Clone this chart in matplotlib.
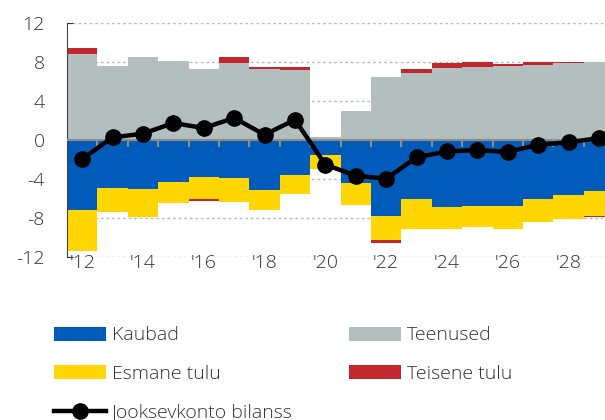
import numpy as np
import matplotlib
matplotlib.use('Agg')
import matplotlib.pyplot as plt

plt.rcParams['font.family'] = ['Open Sans', 'DejaVu Sans']
plt.rcParams['font.weight'] = 'light'
plt.rcParams['axes.unicode_minus'] = False

years = np.arange(2012, 2030)
kaubad = [-7.18, -4.92, -5.0, -4.28, -3.83, -3.9, -5.1, -3.63, -1.5,
          -4.41, -7.84, -6.02, -6.84, -6.74, -6.74, -6.02, -5.61, -5.2]
teenused = [8.8, 7.55, 8.47, 8.1, 7.31, 7.86, 7.28, 7.21, 0.34,
            3.0, 6.49, 6.83, 7.38, 7.52, 7.55, 7.66, 7.9, 8.0]
esmane = [-4.17, -2.46, -2.9, -2.18, -2.22, -2.43, -2.05, -1.91, -1.47,
          -2.23, -2.39, -3.14, -2.26, -2.22, -2.36, -2.43, -2.49, -2.56]
teisene = [0.6, 0.05, 0.05, 0.05, -0.17, 0.7, 0.24, 0.24, 0.0,
           -0.06, -0.3, 0.48, 0.5, 0.48, 0.25, 0.3, 0.05, -0.12]
jooksev = [-1.95, 0.27, 0.65, 1.74, 1.23, 2.26, 0.54, 2.08, -2.53,
           -3.66, -3.97, -1.78, -1.17, -1.03, -1.23, -0.48, -0.24, 0.2]
xtick_years = np.arange(2012, 2030, 2)
xtick_labels = ["'%02d" % (y % 100) for y in xtick_years]

c_blue = '#005BBB'
c_grey = '#B3BFBE'
c_yellow = '#FFD600'
c_red = '#C4262E'

fig = plt.figure(figsize=(6.05, 4.2), dpi=100)
ax = fig.add_axes([67/605, 1-257/420, 1-67/605, (257-23)/420])

kaubad = np.array(kaubad)
esmane = np.array(esmane)
teenused = np.array(teenused)
teisene = np.array(teisene)

ax.bar(years, kaubad, width=1.0, color=c_blue, lw=0, label='Kaubad', zorder=2)
ax.bar(years, teenused, width=1.0, color=c_grey, lw=0, label='Teenused', zorder=2)
ax.bar(years, esmane, bottom=kaubad, width=1.0, color=c_yellow, lw=0,
       label='Esmane tulu', zorder=2)
tei_bottom = np.where(teisene >= 0, teenused, kaubad + esmane)
ax.bar(years, teisene, bottom=tei_bottom, width=1.0, color=c_red, lw=0,
       label='Teisene tulu', zorder=2)

# zero line with small ticks between bars
ax.axhline(0, color='#8C8C8C', lw=1.5, zorder=3)
ax.vlines(years[1:] - 0.5, -0.75, 0, color='#8C8C8C', lw=1.5, zorder=3)

ax.plot(years, jooksev, color='black', lw=3.2, marker='o', markersize=11,
        label='Jooksevkonto bilanss', zorder=4)

ax.set_xlim(2011.5, 2029.2)
ax.set_ylim(-12, 12)
ax.set_yticks([-12, -8, -4, 0, 4, 8, 12])
ax.set_xticks(xtick_years)
ax.set_xticklabels(xtick_labels)
for yv in [-12, -8, -4, 4, 8, 12]:
    ax.axhline(yv, color='#BBBBBB', lw=1, ls=(0, (2, 2)), zorder=1)

for s in ['top', 'right', 'bottom']:
    ax.spines[s].set_visible(False)
ax.spines['left'].set_linestyle((0, (1, 1)))
ax.spines['left'].set_color('#444444')
ax.tick_params(axis='y', direction='in', length=4, color='#333333',
               labelsize=14, labelcolor='#333333', pad=16)
ax.tick_params(axis='x', length=0, labelsize=14, labelcolor='#333333', pad=-2)

h, l = ax.get_legend_handles_labels()
order = ['Kaubad', 'Esmane tulu', 'Jooksevkonto bilanss', 'Teenused', 'Teisene tulu']
hh = [h[l.index(o)] for o in order]
fig.legend(hh, order, loc='upper left', bbox_to_anchor=(36/605, 1-309/420),
           ncol=2, frameon=False, fontsize=14, handlelength=2.7,
           handleheight=0.7, handletextpad=0.3, labelspacing=1.05,
           columnspacing=2.9, labelcolor='#333333')

fig.savefig('out.png', dpi=100)
